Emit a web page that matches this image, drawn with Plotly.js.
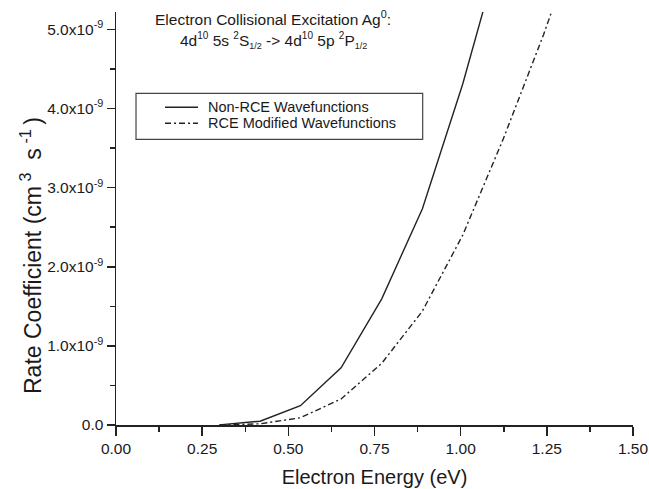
<!DOCTYPE html>
<html>
<head>
<meta charset="utf-8">
<script src="https://cdn.plot.ly/plotly-3.0.1.min.js"></script>
<style>html,body{margin:0;padding:0;background:#fff;}#chart{width:649px;height:489px;}</style>
</head>
<body>
<div id="chart"></div>
<script>
// Electron energy (eV)
const energy = [0.300, 0.418, 0.535, 0.653, 0.771, 0.889, 1.006, 1.124, 1.241, 1.359];
// Rate coefficients (cm^3 s^-1)
const nonRCE = [0.002e-9, 0.048e-9, 0.243e-9, 0.723e-9, 1.595e-9, 2.733e-9, 4.31e-9, 6.15e-9, null, null];
const rceModified = [0.0, 0.015e-9, 0.091e-9, 0.329e-9, 0.78e-9, 1.44e-9, 2.40e-9, 3.62e-9, 4.94e-9, 6.4e-9];
const seriesNames = ["Non-RCE Wavefunctions", "RCE Modified Wavefunctions"];
const seriesDash = ["solid", "6px,3px,2px,3px"];
const yTickVals = [0, 1e-9, 2e-9, 3e-9, 4e-9, 5e-9];
const yTickText = ["0.0", "1.0x10<sup>-9</sup>", "2.0x10<sup>-9</sup>", "3.0x10<sup>-9</sup>", "4.0x10<sup>-9</sup>", "5.0x10<sup>-9</sup>"];

const FONT = "Liberation Sans, Arial, Helvetica, sans-serif";
const INK = "#1a1a1a";
const LINE = "#222";

const traces = [
  {x: energy, y: nonRCE, name: seriesNames[0], mode: "lines",
   line: {color: LINE, width: 1.4, dash: seriesDash[0]}},
  {x: energy, y: rceModified, name: seriesNames[1], mode: "lines",
   line: {color: LINE, width: 1.4, dash: seriesDash[1]}}
];

// legend geometry (paper coordinates)
const legRows = [0.7692, 0.7305];
const legSampleX = [0.0948, 0.1586];
const legTextX = 0.1741;

const shapes = [
  {type: "rect", xref: "paper", yref: "paper", x0: 0.0387, x1: 0.5932, y0: 0.6918, y1: 0.803,
   line: {color: "#444", width: 1.2}, fillcolor: "rgba(0,0,0,0)"}
];
const annotations = [
  {text: "Rate Coefficient (cm\u2009<sup>3</sup>\u00A0\u00A0s\u2009<sup>-1</sup>\u2009)", textangle: -90,
   xref: "paper", yref: "paper", x: -0.163, y: 0.411, xanchor: "center", yanchor: "middle",
   showarrow: false, font: {family: FONT, size: 23, color: INK}},
  {text: "Electron Collisional Excitation Ag<sup>0</sup>:",
   xref: "paper", yref: "paper", x: 0.3045, y: 0.985, xanchor: "center", yanchor: "middle",
   showarrow: false, font: {family: FONT, size: 15.5, color: INK}},
  {text: "4d<sup><span style=\"font-size:10px\">10</span></sup> 5s <sup><span style=\"font-size:10px\">2</span></sup>S<sub><span style=\"font-size:9px\">1/2</span></sub> -> 4d<sup><span style=\"font-size:10px\">10</span></sup> 5p <sup><span style=\"font-size:10px\">2</span></sup>P<sub><span style=\"font-size:9px\">1/2</span></sub>",
   xref: "paper", yref: "paper", x: 0.3045, y: 0.932, xanchor: "center", yanchor: "middle",
   showarrow: false, font: {family: FONT, size: 15.5, color: INK}}
];
seriesNames.forEach(function (name, i) {
  shapes.push({type: "line", xref: "paper", yref: "paper",
    x0: legSampleX[0], x1: legSampleX[1], y0: legRows[i], y1: legRows[i],
    line: {color: LINE, width: 1.4, dash: seriesDash[i]}});
  annotations.push({text: name, xref: "paper", yref: "paper", x: legTextX, y: legRows[i],
    xanchor: "left", yanchor: "middle", showarrow: false,
    font: {family: FONT, size: 14.5, color: INK}});
});

const layout = {
  width: 649, height: 489,
  margin: {l: 116, r: 16, t: 12, b: 64, pad: 0},
  paper_bgcolor: "#fff", plot_bgcolor: "#fff",
  font: {family: FONT, color: INK, size: 16},
  showlegend: false,
  xaxis: {
    range: [0, 1.5], dtick: 0.25, tick0: 0, tickformat: ".2f",
    showgrid: false, zeroline: false,
    showline: true, linecolor: LINE, linewidth: 1.5,
    ticks: "outside", ticklen: 9, tickwidth: 1.5, tickcolor: LINE,
    tickfont: {family: FONT, size: 15.5, color: INK},
    minor: {dtick: 0.125, ticks: "outside", ticklen: 5, tickwidth: 1.5, tickcolor: LINE, showgrid: false},
    title: {text: "Electron Energy (eV)", font: {family: FONT, size: 20, color: INK}, standoff: 14},
    fixedrange: true
  },
  yaxis: {
    range: [0, 5.22e-9],
    tickmode: "array", tickvals: yTickVals, ticktext: yTickText,
    showgrid: false, zeroline: false,
    showline: true, linecolor: LINE, linewidth: 1.5,
    ticks: "outside", ticklen: 8, tickwidth: 1.5, tickcolor: LINE,
    tickfont: {family: FONT, size: 15.5, color: INK},
    minor: {tickmode: "linear", tick0: 0, dtick: 0.5e-9, ticks: "outside", ticklen: 5, tickwidth: 1.5, tickcolor: LINE, showgrid: false},
    fixedrange: true
  },
  shapes: shapes,
  annotations: annotations
};

Plotly.newPlot("chart", traces, layout, {displayModeBar: false, staticPlot: true});
</script>
</body>
</html>
